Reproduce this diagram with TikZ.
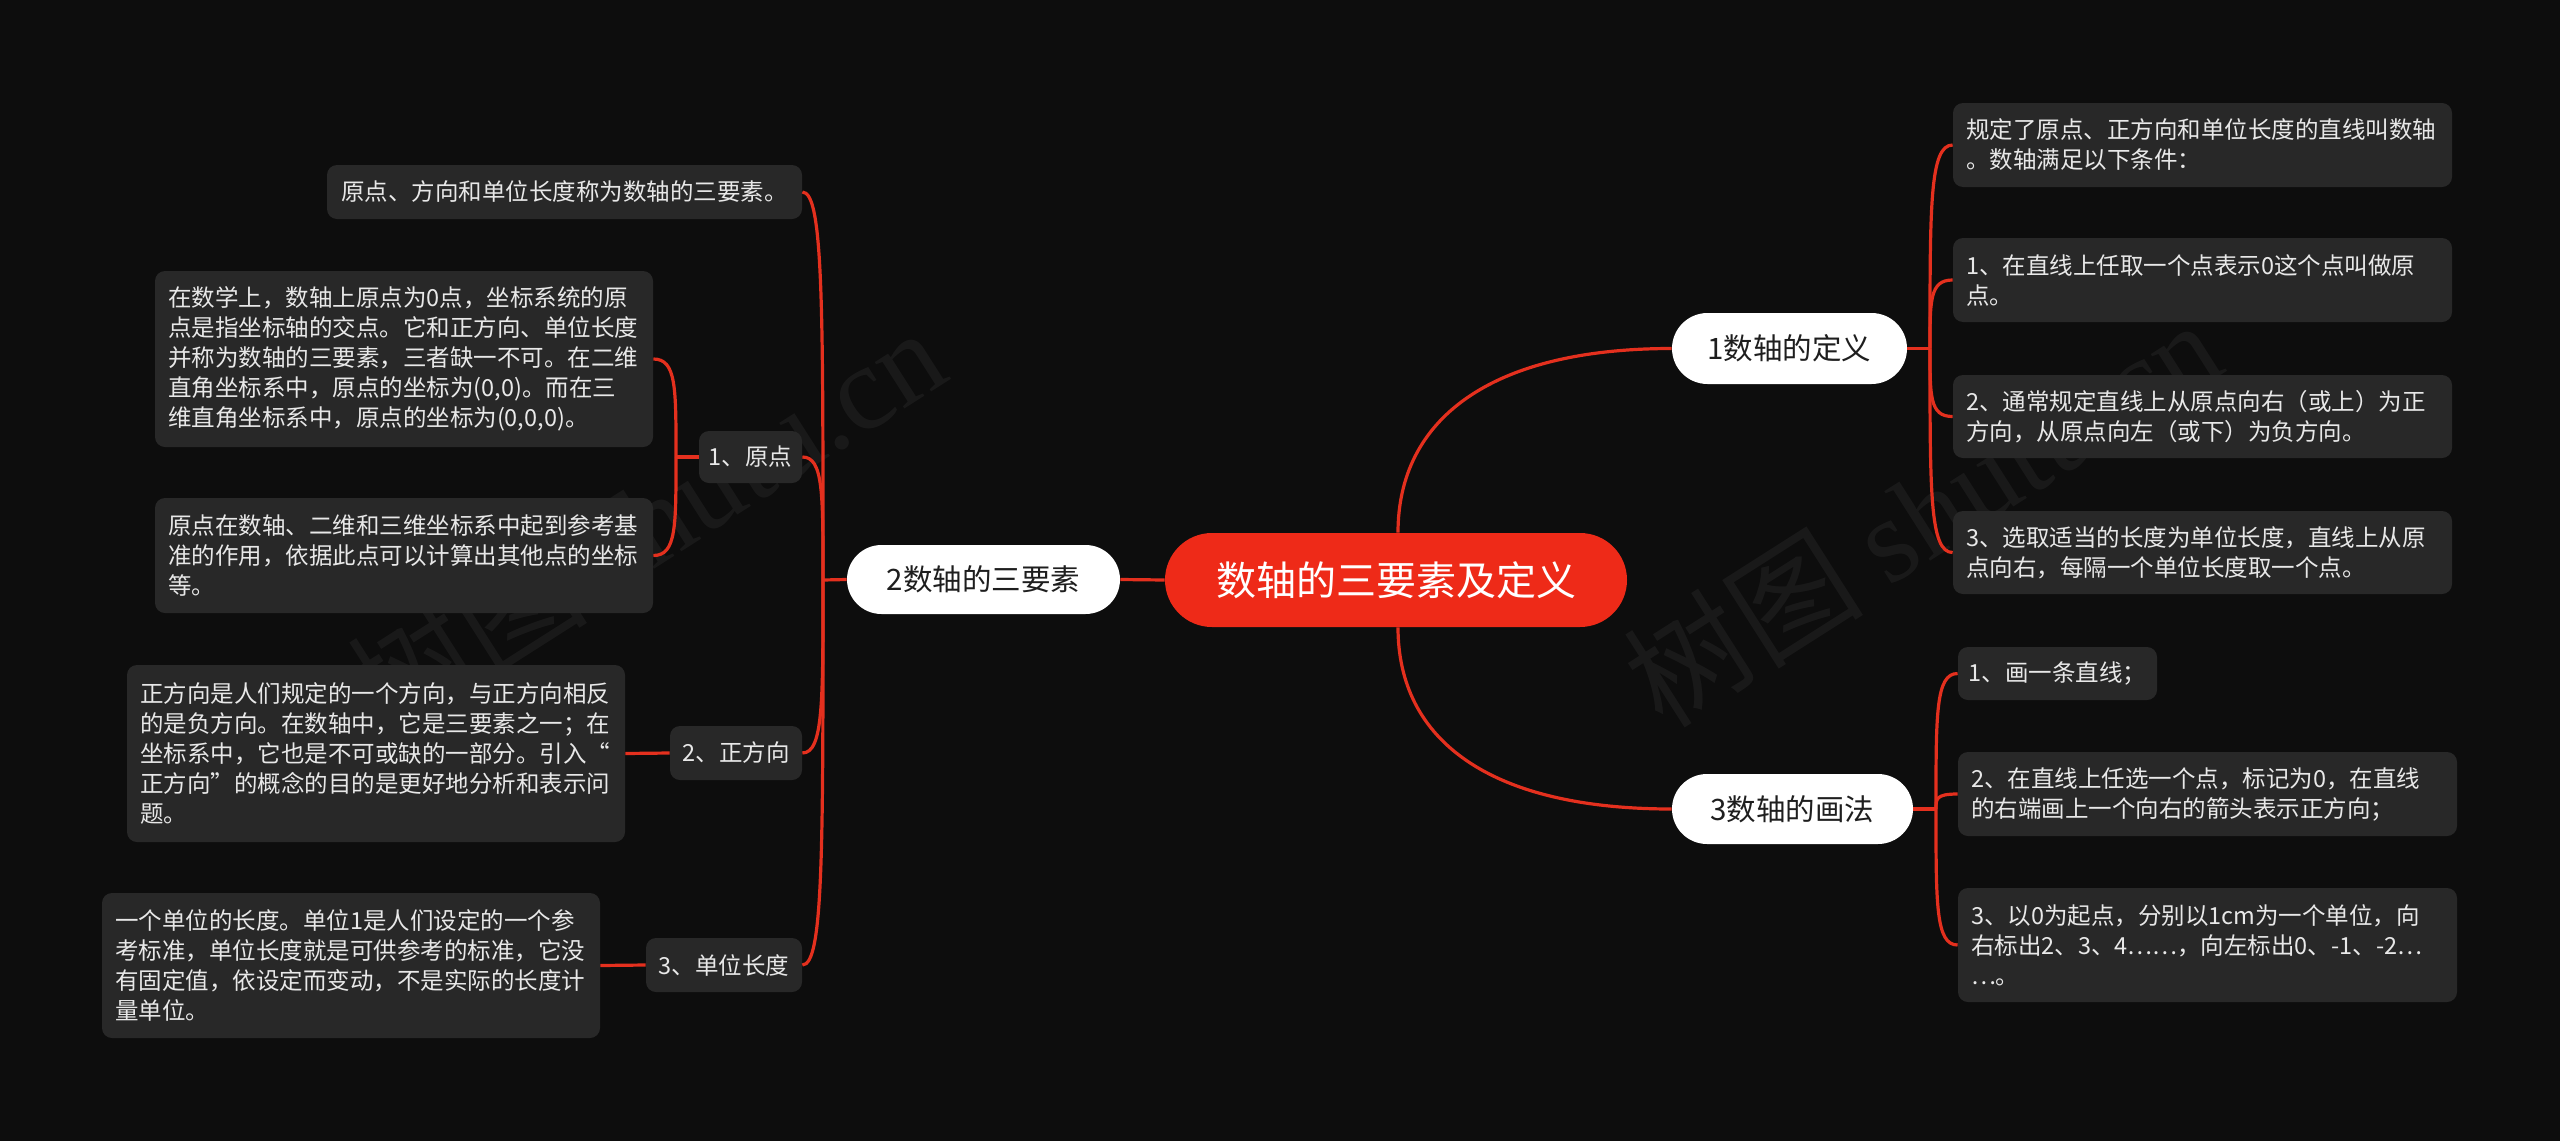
\documentclass[tikz,border=0pt]{standalone}
\usepackage{fontspec}
\setmainfont{Noto Sans CJK SC}
\newfontfamily\wmserif{Liberation Serif}
\usetikzlibrary{shapes.misc}
\definecolor{bgc}{RGB}{13,13,13}
\definecolor{boxc}{RGB}{40,40,40}
\definecolor{redc}{RGB}{238,42,24}
\definecolor{linec}{RGB}{228,48,30}
\definecolor{txtc}{RGB}{232,232,232}
\definecolor{pilltxt}{RGB}{30,30,30}
\begin{document}
\begin{tikzpicture}[x=0.5pt,y=-0.5pt,
  conn/.style={draw=linec, line width=1.6pt},
  leaf/.style={fill=boxc, rounded corners=5pt, text=txtc, font=\fontsize{11.75pt}{15pt}\selectfont, align=left, inner xsep=6.5pt, inner ysep=0pt},
  leafs/.style={fill=boxc, rounded corners=5pt, text=txtc, font=\fontsize{11.75pt}{15pt}\selectfont, inner xsep=2pt, inner ysep=0pt},
  pill/.style={rounded rectangle, fill=white, text=pilltxt, font=\fontsize{14.75pt}{18pt}\selectfont, inner sep=0pt},
  rootn/.style={rounded rectangle, fill=redc, text=white, font=\fontsize{20pt}{24pt}\selectfont, inner sep=0pt},
  wm/.style={text=white, text opacity=0.05, font=\fontsize{60pt}{66pt}\selectfont, inner sep=0pt}]
\fill[bgc] (0,0) rectangle (2560,1141);
\useasboundingbox (0,0) rectangle (2560,1141);

% watermarks (faint, beneath)
\node[wm, rotate=32.5] (wm1) at (646,520) {树图 {\wmserif shutu.cn}};
\node[wm, rotate=32.5] (wm2) at (1922,512) {树图 {\wmserif shutu.cn}};

% central nodes
\node[rootn, minimum width=231pt, minimum height=47pt] (root) at (1396,580) {数轴的三要素及定义};
\node[pill, minimum width=136.5pt, minimum height=34.5pt] (P2) at (983.5,579.5) {2数轴的三要素};
\node[pill, minimum width=117.5pt, minimum height=35.5pt] (P1) at (1789.5,348.5) {1数轴的定义};
\node[pill, minimum width=120.5pt, minimum height=35pt] (P3) at (1792.5,809) {3数轴的画法};

% left leaves
\node[leafs, minimum width=237.5pt, minimum height=27pt] (L1) at (564.5,192) {原点、方向和单位长度称为数轴的三要素。};
\node[leaf, text width=236pt, minimum height=88pt] (L2) at (404,359) {在数学上，数轴上原点为0点，坐标系统的原\\点是指坐标轴的交点。它和正方向、单位长度\\并称为数轴的三要素，三者缺一不可。在二维\\直角坐标系中，原点的坐标为(0,0)。而在三\\维直角坐标系中，原点的坐标为(0,0,0)。};
\node[leaf, text width=236pt, minimum height=57.5pt] (L3) at (404,555.5) {原点在数轴、二维和三维坐标系中起到参考基\\准的作用，依据此点可以计算出其他点的坐标\\等。};
\node[leafs, minimum width=51.5pt, minimum height=26pt] (L1a) at (750.5,457) {1、原点};
\node[leaf, text width=236pt, minimum height=88.5pt] (L4) at (376,753.5) {正方向是人们规定的一个方向，与正方向相反\\的是负方向。在数轴中，它是三要素之一；在\\坐标系中，它也是不可或缺的一部分。引入“\\正方向”的概念的目的是更好地分析和表示问\\题。};
\node[leafs, minimum width=66pt, minimum height=27pt] (L4a) at (736,753) {2、正方向};
\node[leaf, text width=236pt, minimum height=72.5pt] (L5) at (351,965.5) {一个单位的长度。单位1是人们设定的一个参\\考标准，单位长度就是可供参考的标准，它没\\有固定值，依设定而变动，不是实际的长度计\\量单位。};
\node[leafs, minimum width=78pt, minimum height=27pt] (L5a) at (724,965) {3、单位长度};

% right leaves
\node[leaf, text width=236.5pt, minimum height=42pt] (R1) at (2202.5,145) {规定了原点、正方向和单位长度的直线叫数轴\\。数轴满足以下条件：};
\node[leaf, text width=236.5pt, minimum height=42pt] (R2) at (2202.5,280) {1、在直线上任取一个点表示0这个点叫做原\\点。};
\node[leaf, text width=236.5pt, minimum height=41.5pt] (R3) at (2202.5,416.5) {2、通常规定直线上从原点向右（或上）为正\\方向，从原点向左（或下）为负方向。};
\node[leaf, text width=236.5pt, minimum height=41.5pt] (R4) at (2202.5,552.5) {3、选取适当的长度为单位长度，直线上从原\\点向右，每隔一个单位长度取一个点。};
\node[leafs, minimum width=99.5pt, minimum height=26.5pt] (D1) at (2057.5,673.5) {1、画一条直线；};
\node[leaf, text width=236.5pt, minimum height=42pt] (D2) at (2207.5,794) {2、在直线上任选一个点，标记为0，在直线\\的右端画上一个向右的箭头表示正方向；};
\node[leaf, text width=236.5pt, minimum height=57pt] (D3) at (2207.5,945) {3、以0为起点，分别以1cm为一个单位，向\\右标出2、3、4……，向左标出0、\mbox{-1}、\mbox{-2}…\\…。};

% connectors
\coordinate (JL) at (823,580);
\coordinate (JO) at (676,457);
\coordinate (JR1) at (1930,348.5);
\coordinate (JR3) at (1936,809);

\draw[conn] (root.west) -- (P2.east);
\draw[conn] ([xshift=1pt]root.north) .. controls +(0,-113) and +(-182,0) .. (P1.west);
\draw[conn] ([xshift=1pt]root.south) .. controls +(0,113) and +(-182,0) .. (P3.west);

\draw[conn] (P2.west) -- (JL);
\draw[conn] (L1.east) .. controls +(21,0) and +(0,-272) .. (JL);
\draw[conn] (L1a.east) .. controls +(21,0) and +(0,-86) .. (JL);
\draw[conn] (L4a.east) .. controls +(21,0) and +(0,121) .. (JL);
\draw[conn] (L5a.east) .. controls +(21,0) and +(0,270) .. (JL);

\draw[conn] (L1a.west) -- (JO);
\draw[conn] (L2.east) .. controls +(23,0) and +(0,-69) .. (JO);
\draw[conn] (L3.east) .. controls +(23,0) and +(0,69) .. (JO);
\draw[conn] (L4.east) -- (L4a.west);
\draw[conn] (L5.east) -- (L5a.west);

\draw[conn] (P1.east) -- (JR1);
\draw[conn] (R1.west) .. controls +(-23,0) and +(0,-142) .. (JR1);
\draw[conn] (R2.west) .. controls +(-23,0) and +(0,-48) .. (JR1);
\draw[conn] (R3.west) .. controls +(-23,0) and +(0,48) .. (JR1);
\draw[conn] (R4.west) .. controls +(-23,0) and +(0,143) .. (JR1);

\draw[conn] (P3.east) -- (JR3);
\draw[conn] (D1.west) .. controls +(-22,0) and +(0,-95) .. (JR3);
\draw[conn] (D2.west) .. controls +(-22,0) and +(0,-10) .. (JR3);
\draw[conn] (D3.west) .. controls +(-22,0) and +(0,95) .. (JR3);
\end{tikzpicture}
\end{document}
